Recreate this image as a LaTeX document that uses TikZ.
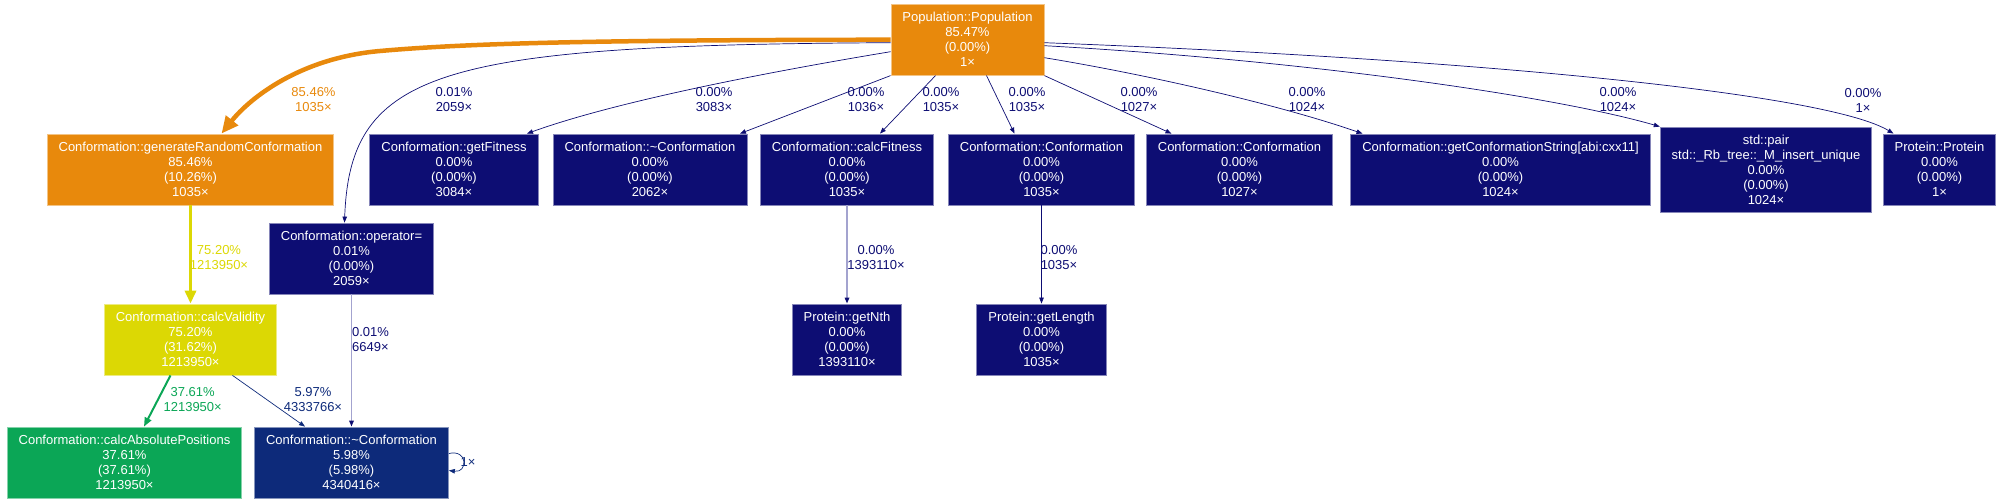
\documentclass[tikz,border=0pt]{standalone}
\usepackage{fontspec}
\setmainfont{Liberation Sans}
\usetikzlibrary{arrows.meta,calc}

\definecolor{hotorange}{HTML}{E8890C}
\definecolor{hotyellow}{HTML}{DCD804}
\definecolor{warmgreen}{HTML}{0BA656}
\definecolor{coolnavy}{HTML}{0D2A7A}
\definecolor{coldblue}{HTML}{0D0D73}
\definecolor{paleblue}{HTML}{A3A3CF}

\tikzset{
	fn/.style={rectangle, text=white, align=center, font=\fontsize{13}{15}\selectfont,
		inner xsep=11.5pt, inner ysep=0pt, minimum height=71pt, line width=0.8pt},
	box/.style={fn, fill=#1, draw=#1!50!white},
	lbl/.style={align=center, font=\fontsize{13}{15}\selectfont, inner sep=0pt},
	call/.style={draw=coldblue, line width=0.7pt, -{Triangle[length=6pt,width=4.5pt]}},
	paled/.style={draw=paleblue, line width=1.8pt, -{Triangle[length=6pt,width=4.5pt,color=coldblue]}},
	hotcall/.style={draw=hotorange, line width=4.5pt, -{Triangle[length=17pt,width=15pt]}},
	yelcall/.style={draw=hotyellow, line width=3.5pt, -{Triangle[length=13pt,width=11pt]}},
	grecall/.style={draw=warmgreen, line width=2pt, -{Triangle[length=9pt,width=7pt]}},
	navcall/.style={draw=coolnavy, line width=0.7pt, -{Triangle[length=6pt,width=4.5pt]}}
}

% function box: name, centre, colour, text
\newcommand{\fnode}[4]{
	\node[box=#3] (#1) at (#2) {#4};
}
% call label: name, centre, colour, text
\newcommand{\elabel}[4]{
	\node[lbl, text=#3] (#1) at (#2) {#4};
}

\begin{document}
\begin{tikzpicture}[x=1pt,y=-1pt]
	\useasboundingbox (0,0) rectangle (2001,503);
	
	% top
	\fnode{pop}{967.5,39.7}{hotorange}{Population::Population\\85.47\%\\(0.00\%)\\1×}
	
	% first row
	\fnode{genRand}{190.5,169.5}{hotorange}{Conformation::generateRandomConformation\\85.46\%\\(10.26\%)\\1035×}
	\fnode{getFitness}{454,169.5}{coldblue}{Conformation::getFitness\\0.00\%\\(0.00\%)\\3084×}
	\fnode{dtorTop}{650,169.5}{coldblue}{Conformation::\textasciitilde Conformation\\0.00\%\\(0.00\%)\\2062×}
	\fnode{calcFitness}{847,169.5}{coldblue}{Conformation::calcFitness\\0.00\%\\(0.00\%)\\1035×}
	\fnode{confA}{1041.5,169.5}{coldblue}{Conformation::Conformation\\0.00\%\\(0.00\%)\\1035×}
	\fnode{confB}{1239.5,169.5}{coldblue}{Conformation::Conformation\\0.00\%\\(0.00\%)\\1027×}
	\fnode{confString}{1500.5,169.5}{coldblue}{Conformation::getConformationString[abi:cxx11]\\0.00\%\\(0.00\%)\\1024×}
	\node[box=coldblue, minimum height=85pt] (stdpair) at (1766,169.5)
		{std::pair\\std::\_Rb\_tree::\_M\_insert\_unique\\0.00\%\\(0.00\%)\\1024×};
	\fnode{protein}{1939.5,169.5}{coldblue}{Protein::Protein\\0.00\%\\(0.00\%)\\1×}
	
	% lower rows
	\fnode{operatorEq}{351.5,258.5}{coldblue}{Conformation::operator=\\0.01\%\\(0.00\%)\\2059×}
	\fnode{calcValidity}{190.5,339.5}{hotyellow}{Conformation::calcValidity\\75.20\%\\(31.62\%)\\1213950×}
	\fnode{getNth}{847,339.5}{coldblue}{Protein::getNth\\0.00\%\\(0.00\%)\\1393110×}
	\fnode{getLength}{1041.5,339.5}{coldblue}{Protein::getLength\\0.00\%\\(0.00\%)\\1035×}
	\fnode{calcAbs}{124.5,462.5}{warmgreen}{Conformation::calcAbsolutePositions\\37.61\%\\(37.61\%)\\1213950×}
	\fnode{dtorBot}{351.5,462.5}{coolnavy}{Conformation::\textasciitilde Conformation\\5.98\%\\(5.98\%)\\4340416×}
	
	% calls from the top
	\draw[hotcall] (pop.west) .. controls (600,40) and (470,43) .. (380,51)
		.. controls (300,58) and (250,98) .. ([xshift=31pt]genRand.north);
	\draw[call] ([yshift=-3pt]pop.west) .. controls (440,45) and (350,70) .. ([xshift=-7pt]operatorEq.north);
	\draw[call] ([yshift=-12pt]pop.west) .. controls (780,70) and (620,100) .. ([xshift=73pt]getFitness.north);
	\draw[call] (pop.south west) -- ([xshift=90pt]dtorTop.north);
	\draw[call] ([xshift=-32pt]pop.south) -- ([xshift=33pt]calcFitness.north);
	\draw[call] ([xshift=19pt]pop.south) -- ([xshift=-27pt]confA.north);
	\draw[call] (pop.south east) -- ([xshift=-68pt]confB.north);
	\draw[call] ([yshift=-18pt]pop.east) .. controls (1150,75) and (1280,105) .. ([xshift=-138pt]confString.north);
	\draw[call] ([yshift=-6pt]pop.east) .. controls (1300,60) and (1550,95) .. (stdpair.north west);
	\draw[call] ([yshift=-3pt]pop.east) .. controls (1500,60) and (1830,95) .. ([xshift=-46pt]protein.north);
	
	\elabel{lGenRand}{313.5,100}{hotorange}{85.46\%\\1035×}
	\elabel{lOperator}{454,100}{coldblue}{0.01\%\\2059×}
	\elabel{lGetFitness}{714,100}{coldblue}{0.00\%\\3083×}
	\elabel{lDtorTop}{866,100}{coldblue}{0.00\%\\1036×}
	\elabel{lCalcFitness}{941,100}{coldblue}{0.00\%\\1035×}
	\elabel{lConfA}{1027,100}{coldblue}{0.00\%\\1035×}
	\elabel{lConfB}{1139,100}{coldblue}{0.00\%\\1027×}
	\elabel{lConfString}{1307,100}{coldblue}{0.00\%\\1024×}
	\elabel{lStdpair}{1618,100}{coldblue}{0.00\%\\1024×}
	\elabel{lProtein}{1863,100}{coldblue}{0.00\%\\1×}
	
	% calls further down
	\draw[yelcall] (genRand.south) -- (calcValidity.north);
	\draw[paled] (operatorEq.south) -- (dtorBot.north);
	\draw[grecall] ([xshift=-20pt]calcValidity.south) -- ([xshift=19.5pt]calcAbs.north);
	\draw[navcall] ([xshift=42pt]calcValidity.south) -- ([xshift=-46.5pt]dtorBot.north);
	\draw[paled] (calcFitness.south) -- (getNth.north);
	\draw[call] (confA.south) -- (getLength.north);
	\draw[navcall] ([yshift=9pt]dtorBot.east) .. controls (468,449) and (468,473) .. ([yshift=-8pt]dtorBot.east);
	
	\elabel{lValidity}{219,258}{hotyellow}{75.20\%\\1213950×}
	\elabel{lGetNth}{876,258}{coldblue}{0.00\%\\1393110×}
	\elabel{lGetLength}{1059,258}{coldblue}{0.00\%\\1035×}
	\elabel{lDtorBotA}{370.5,340}{coldblue}{0.01\%\\6649×}
	\elabel{lCalcAbs}{192.7,400}{warmgreen}{37.61\%\\1213950×}
	\elabel{lDtorBotB}{313,400}{coolnavy}{5.97\%\\4333766×}
	\elabel{lLoop}{468,462}{coolnavy}{1×}
\end{tikzpicture}
\end{document}
